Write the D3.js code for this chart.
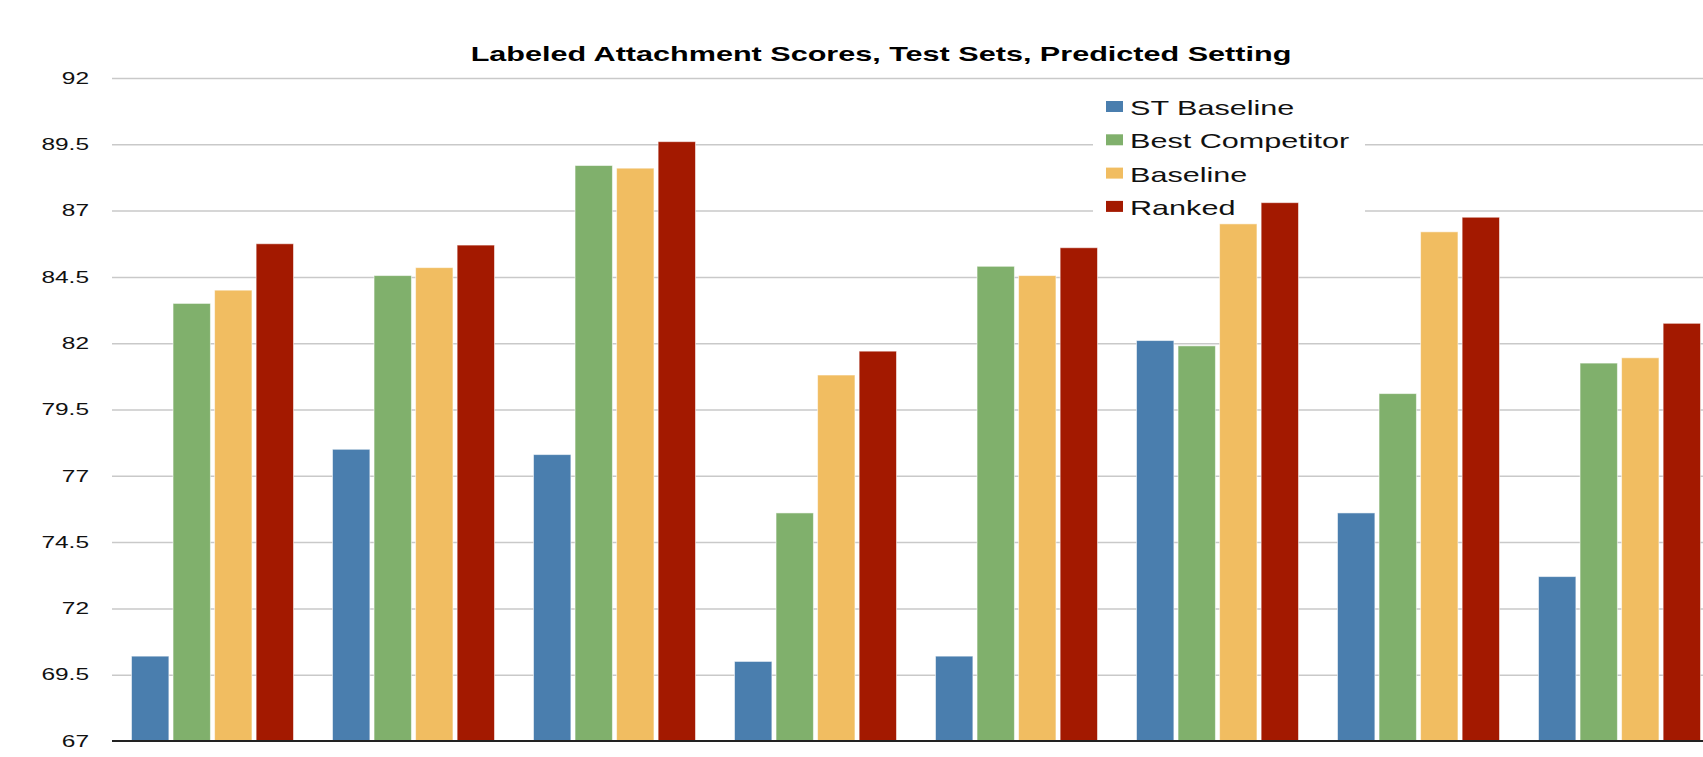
<!DOCTYPE html>
<html lang="en">
<head>
  <meta charset="UTF-8" />
  <title>Labeled Attachment Scores</title>
  <script src="https://d3js.org/d3.v7.min.js"></script>
  <style>
    html, body {
      margin: 0;
      padding: 0;
      background: #fff;
    }
    svg {
      display: block;
      font-family: "Liberation Sans", Arial, Helvetica, sans-serif;
    }
    .grid line {
      stroke: #c9c9c9;
      stroke-width: 1.5px;
    }
  </style>
</head>
<body>
  <svg width="1703" height="757"></svg>
  <script>
    // data
    const testSets = ["Set 1", "Set 2", "Set 3", "Set 4", "Set 5", "Set 6", "Set 7", "Set 8"];
    const seriesNames = ["ST Baseline", "Best Competitor", "Baseline", "Ranked"];
    const stBaseline = [70.2, 78.0, 77.8, 70.0, 70.2, 82.1, 75.6, 73.2];
    const bestCompetitor = [83.5, 84.55, 88.7, 75.6, 84.9, 81.9, 80.1, 81.25];
    const baseline = [84.0, 84.85, 88.6, 80.8, 84.55, 86.5, 86.2, 81.45];
    const ranked = [85.75, 85.7, 89.6, 81.7, 85.6, 87.3, 86.75, 82.75];
    const yTicks = [67, 69.5, 72, 74.5, 77, 79.5, 82, 84.5, 87, 89.5, 92];
    const colors = ["#4a7eae", "#80b06c", "#f1bd61", "#a31900"];

    const seriesValues = [stBaseline, bestCompetitor, baseline, ranked];

    const svg = d3.select("svg");
    const sx = 1.53; // the original picture is stretched sideways

    const plotLeft = 112, plotRight = 1720, plotTop = 78, plotBottom = 741;

    const x0 = d3.scaleBand()
      .domain(testSets)
      .range([plotLeft, plotRight])
      .paddingInner(0.194)
      .paddingOuter(0.097);

    const x1 = d3.scaleBand()
      .domain(seriesNames)
      .range([0, x0.bandwidth()])
      .paddingInner(0.1);

    const y = d3.scaleLinear()
      .domain([67, 92])
      .range([plotBottom, plotTop]);

    // gridlines + tick labels
    const yAxis = svg.append("g")
      .attr("class", "grid")
      .attr("transform", `translate(${plotLeft},0)`)
      .call(d3.axisLeft(y)
        .tickValues(yTicks)
        .tickSize(-(1703 - plotLeft))
        .tickPadding(0)
        .tickFormat(d => String(d)));

    yAxis.select(".domain").remove();
    yAxis.selectAll(".tick text")
      .attr("x", -23 / sx)
      .attr("dy", "0.33em")
      .attr("transform", `scale(${sx},1)`)
      .attr("fill", "#111")
      .style("font-size", "16px");
    yAxis.selectAll(".tick").filter(d => d === 67).select("line").remove();

    // legend background hides the gridlines behind it
    const legendX = 1106, legendY = 115, legendStep = 33.3;
    svg.append("rect")
      .attr("x", 1093)
      .attr("y", 86)
      .attr("width", 272)
      .attr("height", 142)
      .attr("fill", "#fff");

    // bars
    const groups = svg.append("g")
      .selectAll("g")
      .data(testSets)
      .enter()
      .append("g")
      .attr("transform", d => `translate(${x0(d)},0)`);

    groups.selectAll("rect")
      .data((d, i) => seriesNames.map((name, k) => ({ name: name, value: seriesValues[k][i], k: k })))
      .enter()
      .append("rect")
      .attr("x", d => x1(d.name))
      .attr("y", d => y(d.value))
      .attr("width", x1.bandwidth())
      .attr("height", d => plotBottom - y(d.value))
      .attr("fill", d => colors[d.k])
      .attr("stroke", "rgba(255,255,255,0.55)")
      .attr("stroke-width", 1);

    // bottom axis line
    svg.append("line")
      .attr("x1", plotLeft)
      .attr("x2", 1703)
      .attr("y1", plotBottom)
      .attr("y2", plotBottom)
      .attr("stroke", "#222")
      .attr("stroke-width", 2);

    // legend
    const legend = svg.append("g");
    seriesNames.forEach((name, i) => {
      const yy = legendY + i * legendStep;
      legend.append("rect")
        .attr("x", legendX)
        .attr("y", yy - 14)
        .attr("width", 17)
        .attr("height", 11)
        .attr("fill", colors[i]);
      legend.append("text")
        .attr("transform", `translate(${legendX + 24},${yy}) scale(${sx},1)`)
        .attr("fill", "#111")
        .style("font-size", "20px")
        .text(name);
    });

    // title
    svg.append("text")
      .attr("transform", `translate(881,61) scale(${sx},1)`)
      .attr("text-anchor", "middle")
      .attr("fill", "#000")
      .style("font-size", "20px")
      .style("font-weight", "bold")
      .text("Labeled Attachment Scores, Test Sets, Predicted Setting");
  </script>
</body>
</html>
